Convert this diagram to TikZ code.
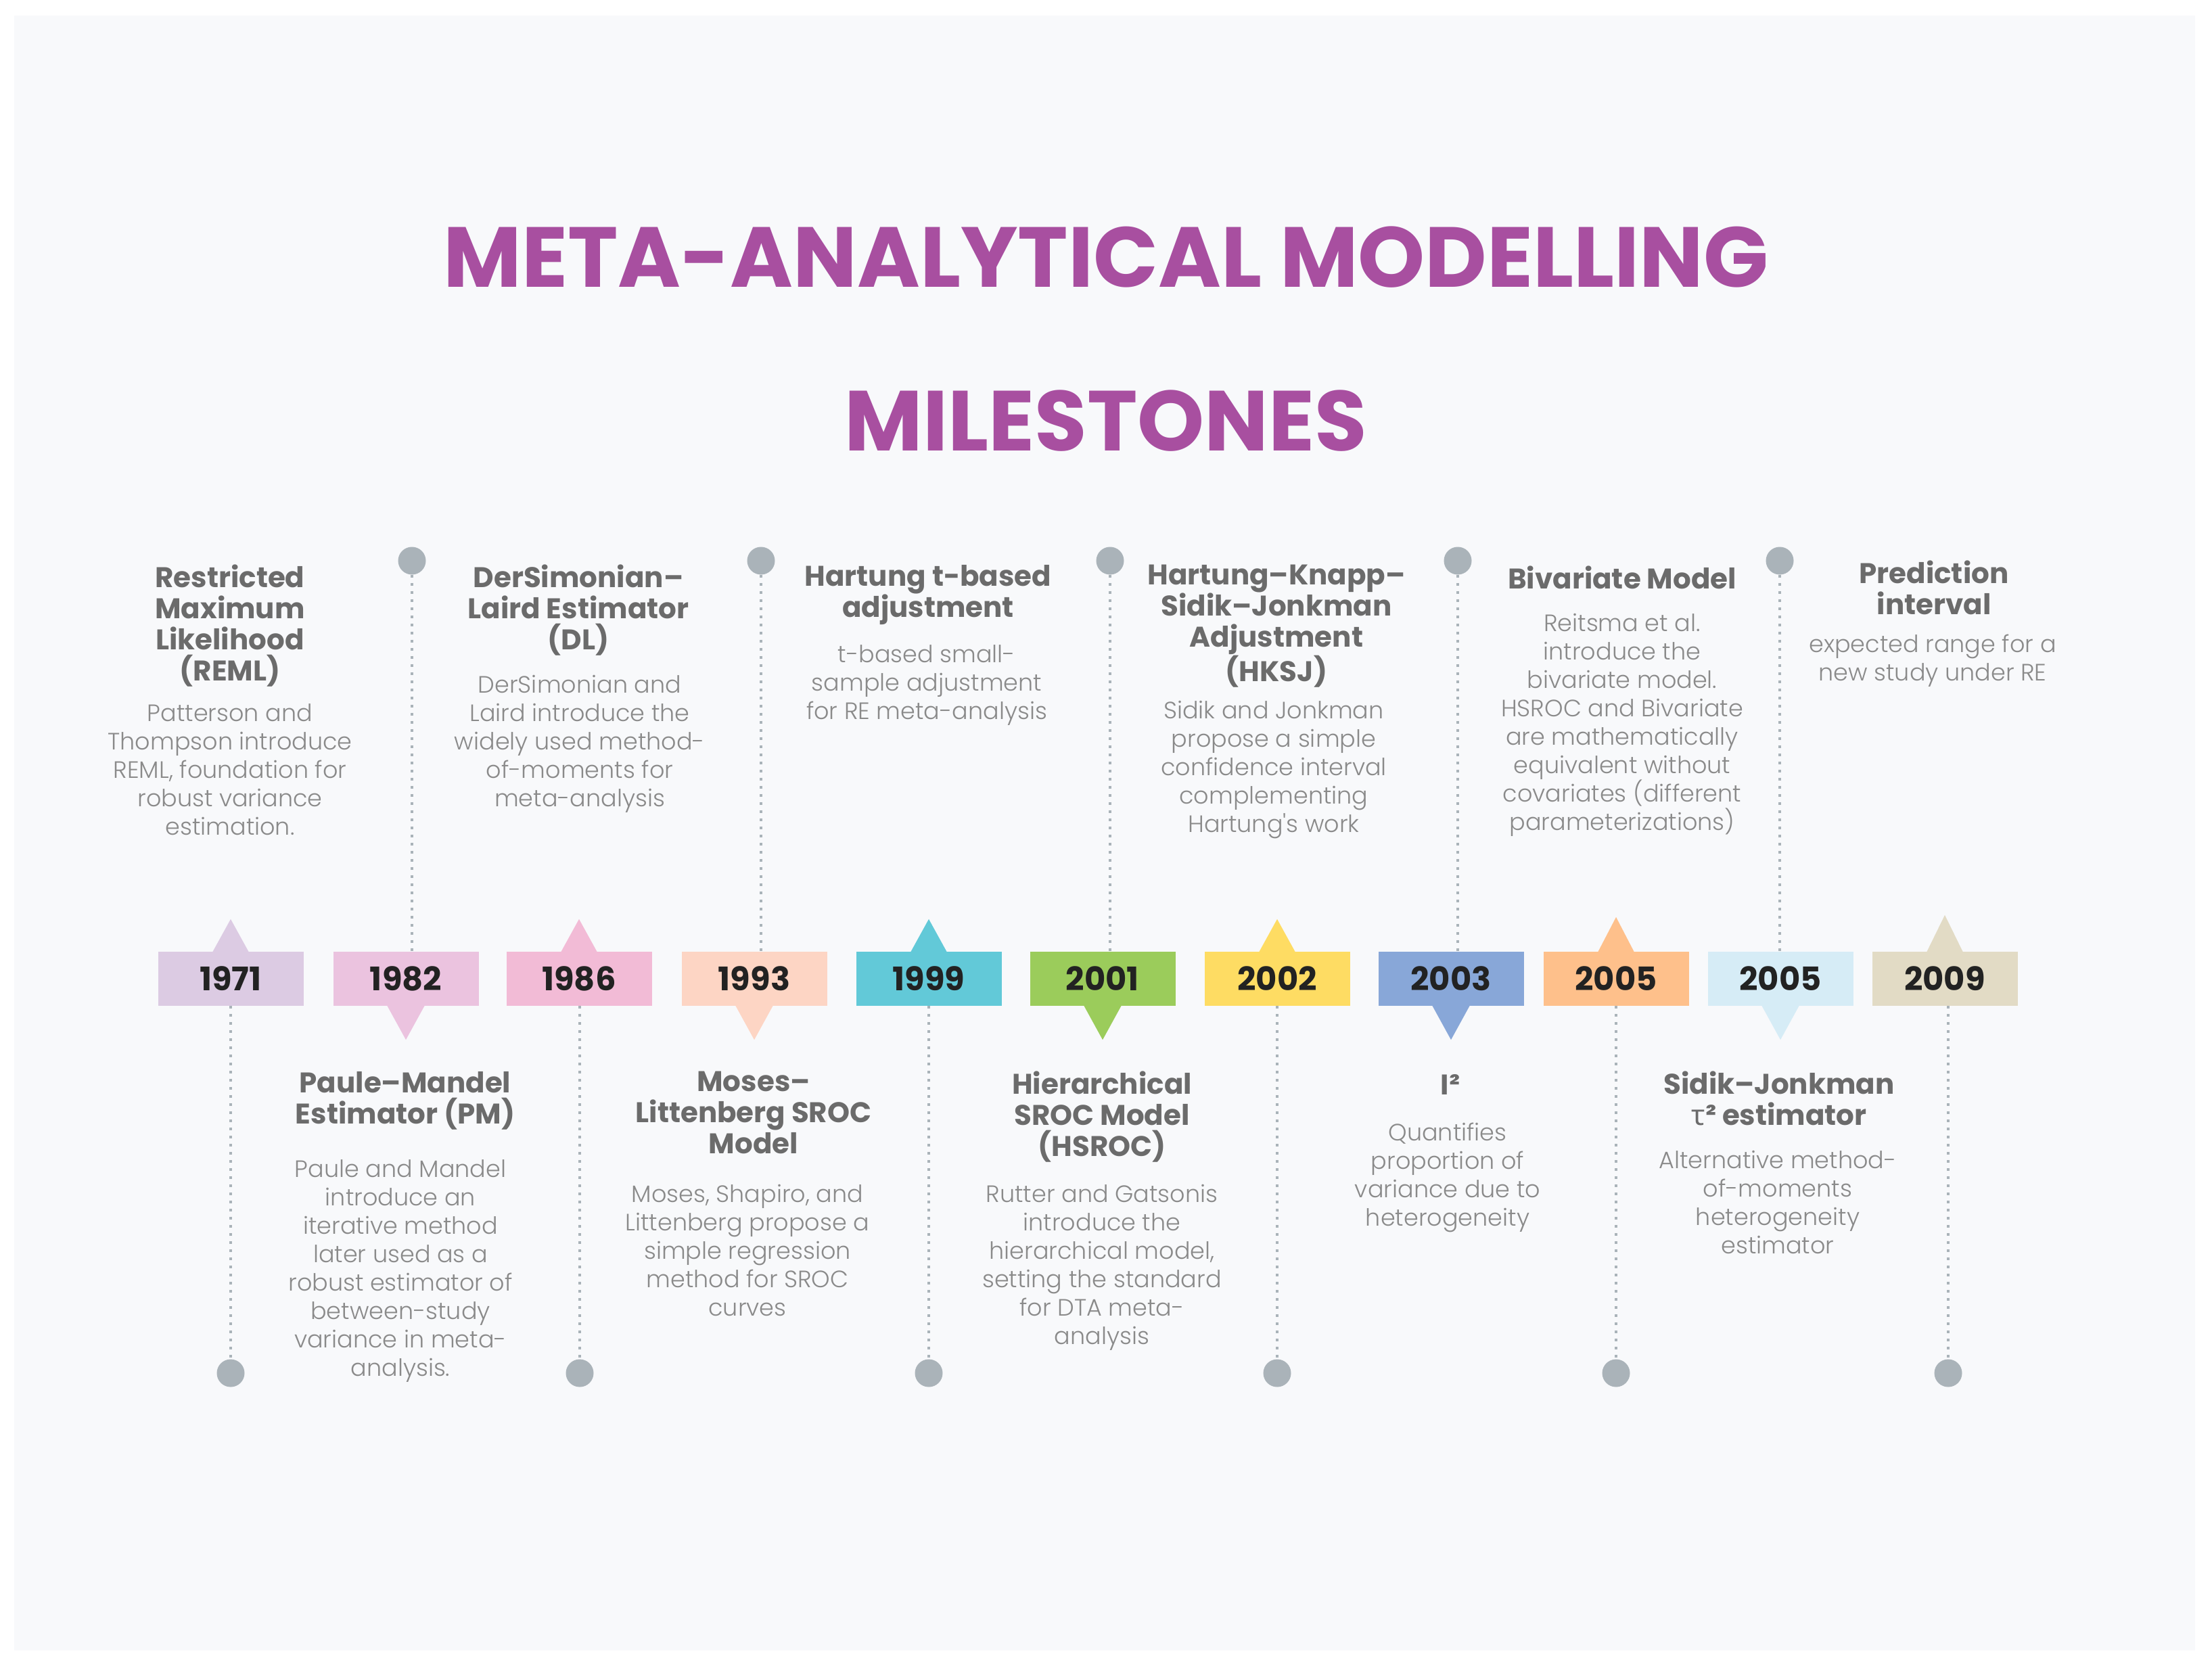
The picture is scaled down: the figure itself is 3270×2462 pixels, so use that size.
\documentclass[tikz,border=0pt]{standalone}
\usepackage{fontspec}
\setmainfont{Poppins}
\IfFontExistsTF{Poppins Light}{\newfontfamily\lightfont{Poppins Light}}{\newfontfamily\lightfont{Poppins}}
\newfontfamily\greekfont{Noto Sans}
\definecolor{panel}{HTML}{F8F9FB}
\definecolor{titlecol}{HTML}{A84FA0}
\definecolor{headgray}{HTML}{6B6B6B}
\definecolor{bodygray}{HTML}{8A8A8A}
\definecolor{yeartext}{HTML}{222222}
\definecolor{dotgray}{HTML}{AAB3B9}
\definecolor{cA}{HTML}{DCCBE3}
\definecolor{cB}{HTML}{EBC3DF}
\definecolor{cC}{HTML}{F2BBD6}
\definecolor{cD}{HTML}{FDD5C4}
\definecolor{cE}{HTML}{62C9D8}
\definecolor{cF}{HTML}{9BCC5B}
\definecolor{cG}{HTML}{FEDC63}
\definecolor{cH}{HTML}{88A7D8}
\definecolor{cI}{HTML}{FEC08B}
\definecolor{cJ}{HTML}{D6ECF6}
\definecolor{cK}{HTML}{E2DBC5}
\newcommand\hfnt{\fontsize{42}{46}\selectfont\bfseries}
\newcommand\bfnt{\lightfont\fontsize{35}{42}\selectfont}
\newcommand\yfnt{\fontsize{48}{50}\selectfont\bfseries}
\newcommand\tfnt{\fontsize{126}{130}\selectfont\bfseries}
\begin{document}
\begin{tikzpicture}[x=1pt,y=-1pt,
  yearbox/.style={rectangle, minimum width=215pt, minimum height=80pt, inner sep=0pt, font=\yfnt, text=yeartext},
  pin/.style={circle, fill=dotgray, minimum size=41pt, inner sep=0pt},
  dotline/.style={draw=dotgray, line width=4pt, dash pattern=on 4pt off 8pt},
  head/.style={align=center, font=\hfnt, text=headgray, inner sep=0pt, anchor=north},
  body/.style={align=center, font=\bfnt, text=bodygray, inner sep=0pt, anchor=north},
  titletext/.style={font=\tfnt, text=titlecol, inner sep=0pt}]
\useasboundingbox (0,0) rectangle (3270,2462);
\fill[white] (0,0) rectangle (3270,2462);
\fill[panel] (21,23) rectangle (3245,2440);
\node[titletext] (t1) at (1635,380) {META-ANALYTICAL MODELLING};
\node[titletext] (t2) at (1635,622) {MILESTONES};
% year boxes
\node[yearbox, fill=cA] (b1) at (341,1447) {1971};
\node[yearbox, fill=cB] (b2) at (600,1447) {1982};
\node[yearbox, fill=cC] (b3) at (856,1447) {1986};
\node[yearbox, fill=cD] (b4) at (1115,1447) {1993};
\node[yearbox, fill=cE] (b5) at (1373,1447) {1999};
\node[yearbox, fill=cF] (b6) at (1630,1447) {2001};
\node[yearbox, fill=cG] (b7) at (1888,1447) {2002};
\node[yearbox, fill=cH] (b8) at (2145,1447) {2003};
\node[yearbox, fill=cI] (b9) at (2389,1447) {2005};
\node[yearbox, fill=cJ] (b10) at (2632,1447) {2005};
\node[yearbox, fill=cK] (b11) at (2875,1447) {2009};
% triangles up
\fill[cA] (b1.north) ++(-27,1) -- ++(27,-49) -- ++(27,49) -- cycle;
\fill[cC] (b3.north) ++(-27,1) -- ++(27,-49) -- ++(27,49) -- cycle;
\fill[cE] (b5.north) ++(-27,1) -- ++(27,-49) -- ++(27,49) -- cycle;
\fill[cG] (b7.north) ++(-27,1) -- ++(27,-49) -- ++(27,49) -- cycle;
\fill[cI] (b9.north) ++(-27,1) -- ++(27,-52) -- ++(27,52) -- cycle;
\fill[cK] (b11.north) ++(-27,1) -- ++(27,-55) -- ++(27,55) -- cycle;
% triangles down
\fill[cB] (b2.south) ++(-28,-1) -- ++(28,51) -- ++(28,-51) -- cycle;
\fill[cD] (b4.south) ++(-28,-1) -- ++(28,51) -- ++(28,-51) -- cycle;
\fill[cF] (b6.south) ++(-28,-1) -- ++(28,51) -- ++(28,-51) -- cycle;
\fill[cH] (b8.south) ++(-28,-1) -- ++(28,51) -- ++(28,-51) -- cycle;
\fill[cJ] (b10.south) ++(-28,-1) -- ++(28,51) -- ++(28,-51) -- cycle;
% pins
\node[pin] (p1) at (341,2030) {};
\node[pin] (p2) at (609,829) {};
\node[pin] (p3) at (857,2030) {};
\node[pin] (p4) at (1125,829) {};
\node[pin] (p5) at (1373,2030) {};
\node[pin] (p6) at (1641,829) {};
\node[pin] (p7) at (1888,2030) {};
\node[pin] (p8) at (2155,829) {};
\node[pin] (p9) at (2389,2030) {};
\node[pin] (p10) at (2631,829) {};
\node[pin] (p11) at (2880,2030) {};
% dotted connectors
\draw[dotline] (p1 |- b1.south) -- (p1);
\draw[dotline] (p2) -- (p2 |- b2.north);
\draw[dotline] (p3 |- b3.south) -- (p3);
\draw[dotline] (p4) -- (p4 |- b4.north);
\draw[dotline] (p5 |- b5.south) -- (p5);
\draw[dotline] (p6) -- (p6 |- b6.north);
\draw[dotline] (p7 |- b7.south) -- (p7);
\draw[dotline] (p8) -- (p8 |- b8.north);
\draw[dotline] (p9 |- b9.south) -- (p9);
\draw[dotline] (p10) -- (p10 |- b10.north);
\draw[dotline] (p11 |- b11.south) -- (p11);
% texts above
\node[head] (h1) at (340,835) {Restricted\\Maximum\\Likelihood\\(REML)};
\node[body] (d1) at (340,1040) {Patterson and\\Thompson introduce\\REML, foundation for\\robust variance\\estimation.};
\node[head] (h3) at (855,835) {DerSimonian–\\Laird Estimator\\(DL)};
\node[body] (d3) at (857,998) {DerSimonian and\\Laird introduce the\\widely used method-\\of-moments for\\meta-analysis};
\node[head] (h5) at (1372,835) {Hartung t-based\\adjustment};
\node[body] (d5) at (1370,953) {t-based small-\\sample adjustment\\for RE meta-analysis};
\node[head] (h7) at (1887,835) {Hartung–Knapp–\\Sidik–Jonkman\\Adjustment\\(HKSJ)};
\node[body] (d7) at (1883,1036) {Sidik and Jonkman\\propose a simple\\confidence interval\\complementing\\Hartung's work};
\node[head] (h9) at (2398,837) {Bivariate Model};
\node[body] (d9) at (2398,907) {Reitsma et al.\\introduce the\\bivariate model.\\HSROC and Bivariate\\are mathematically\\equivalent without\\covariates (different\\parameterizations)};
\node[head] (h11) at (2859,829) {Prediction\\interval};
\node[body] (d11) at (2857,938) {expected range for a\\new study under RE};
% texts below
\node[head] (h2) at (599,1584) {Paule–Mandel\\Estimator (PM)};
\node[body] (d2) at (592,1714) {Paule and Mandel\\introduce an\\iterative method\\later used as a\\robust estimator of\\between-study\\variance in meta-\\analysis.};
\node[head] (h4) at (1114,1584) {Moses–\\Littenberg SROC\\Model};
\node[body] (d4) at (1105,1751) {Moses, Shapiro, and\\Littenberg propose a\\simple regression\\method for SROC\\curves};
\node[head] (h6) at (1629,1584) {Hierarchical\\SROC Model\\(HSROC)};
\node[body] (d6) at (1629,1751) {Rutter and Gatsonis\\introduce the\\hierarchical model,\\setting the standard\\for DTA meta-\\analysis};
\node[head] (h8) at (2144,1588) {I²};
\node[body] (d8) at (2140,1660) {Quantifies\\proportion of\\variance due to\\heterogeneity};
\node[head] (h10) at (2630,1584) {Sidik–Jonkman\\{\greekfont τ}² estimator};
\node[body] (d10) at (2628,1701) {Alternative method-\\of-moments\\heterogeneity\\estimator};
\end{tikzpicture}
\end{document}
